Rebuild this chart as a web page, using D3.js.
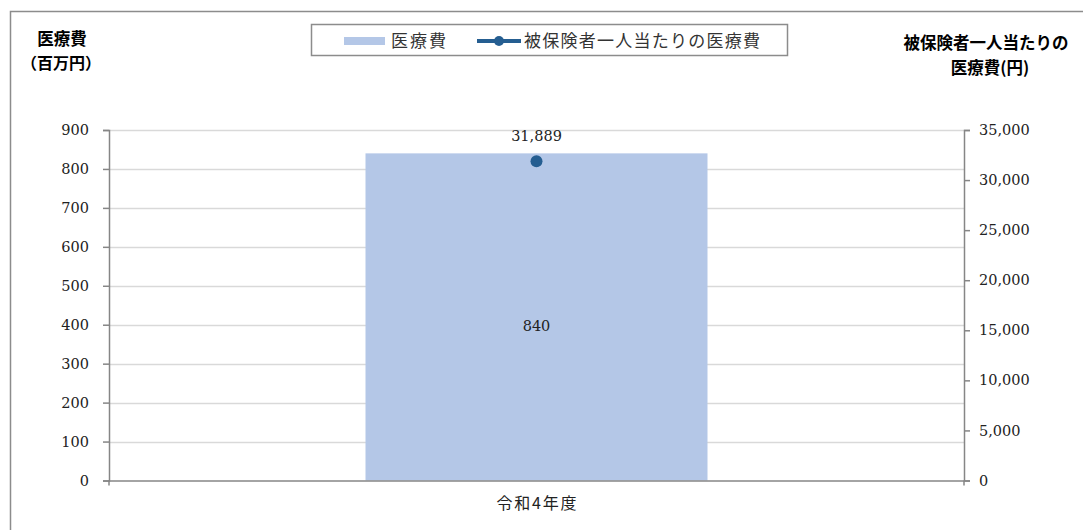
<!DOCTYPE html>
<html><head><meta charset="utf-8">
<script src="https://cdn.jsdelivr.net/npm/d3@7"></script>
<style>
body{margin:0;background:#fff;}
text{font-family:"Noto Sans CJK JP",sans-serif;}
.num{font-family:"DejaVu Serif","Liberation Serif",serif;font-size:14.5px;fill:#222;}
</style></head>
<body>
<svg id="chart" width="1083" height="530"></svg>
<script>
const categories = ["令和4年度"];
const medicalCost = [840];          // 百万円
const perCapitaCost = [31889];      // 円
const leftTicks = [0,100,200,300,400,500,600,700,800,900];
const rightTicks = [0,5000,10000,15000,20000,25000,30000,35000];
const seriesNames = ["医療費","被保険者一人当たりの医療費"];

const svg = d3.select("#chart");
const barColor = "#b4c7e7", lineColor = "#255e91";
const M = {left:109, right:964, top:130, bottom:480.5};

// outer frame
svg.append("rect").attr("x",10.5).attr("y",11.5).attr("width",1200).attr("height",700)
  .attr("fill","none").attr("stroke","#8c8c8c").attr("stroke-width",1.5);

const x = d3.scaleBand().domain(categories).range([M.left,M.right]).paddingInner(0.6).paddingOuter(0.3);
const yL = d3.scaleLinear().domain([0,900]).range([M.bottom,M.top]);
const yR = d3.scaleLinear().domain([0,35000]).range([M.bottom,M.top]);

// gridlines
svg.append("g").selectAll("line").data(leftTicks.filter(d=>d>0)).join("line")
  .attr("x1",M.left).attr("x2",M.right).attr("y1",d=>Math.round(yL(d))+0.5).attr("y2",d=>Math.round(yL(d))+0.5)
  .attr("stroke","#d9d9d9").attr("stroke-width",1.5);

// bars
svg.append("g").selectAll("rect").data(categories).join("rect")
  .attr("x",d=>x(d)).attr("width",x.bandwidth())
  .attr("y",(d,i)=>yL(medicalCost[i])).attr("height",(d,i)=>yL(0)-yL(medicalCost[i]))
  .attr("fill",barColor);

// axes
const axisColor = "#868686";
const gL = svg.append("g").attr("transform",`translate(${M.left},0)`)
  .call(d3.axisLeft(yL).tickValues(leftTicks).tickSize(6).tickPadding(14).tickFormat(d3.format("d")));
const gR = svg.append("g").attr("transform",`translate(${M.right},0)`)
  .call(d3.axisRight(yR).tickValues(rightTicks).tickSize(6).tickPadding(9).tickFormat(d3.format(",")));
const gX = svg.append("g").attr("transform",`translate(0,${M.bottom})`)
  .call(d3.axisBottom(x).tickSize(0).tickPadding(17));
gX.select(".domain").attr("d",`M${M.left},0.5H${M.right}`);
svg.append("line").attr("x1",M.left).attr("x2",M.left).attr("y1",M.bottom).attr("y2",M.bottom+5).attr("stroke",axisColor).attr("stroke-width",1.5);
svg.append("line").attr("x1",M.right).attr("x2",M.right).attr("y1",M.bottom).attr("y2",M.bottom+5).attr("stroke",axisColor).attr("stroke-width",1.5);
[gL,gR,gX].forEach(g=>{
  g.selectAll(".domain").attr("stroke",axisColor).attr("stroke-width",1.5);
  g.selectAll(".tick line").attr("stroke",axisColor).attr("stroke-width",1.5);
});
gL.selectAll(".tick text").attr("class","num").attr("font-family",null).attr("font-size",null);
gR.selectAll(".tick text").attr("class","num").attr("font-family",null).attr("font-size",null);
gX.selectAll(".tick text").attr("font-family","Noto Sans CJK JP").attr("font-size",16).attr("fill","#222")
  .attr("textLength",80).attr("lengthAdjust","spacing");

// line series (single point)
const cx = (d,i)=>x(d)+x.bandwidth()/2;
svg.append("path").datum(categories)
  .attr("d",d3.line().x((d,i)=>cx(d,i)).y((d,i)=>yR(perCapitaCost[i])))
  .attr("fill","none").attr("stroke",lineColor).attr("stroke-width",3);
svg.append("g").selectAll("circle").data(categories).join("circle")
  .attr("cx",cx).attr("cy",(d,i)=>yR(perCapitaCost[i])).attr("r",6).attr("fill",lineColor);

// data labels
svg.append("g").selectAll("text").data(categories).join("text").attr("class","num")
  .attr("x",cx).attr("y",(d,i)=>yR(perCapitaCost[i])-20).attr("text-anchor","middle")
  .text((d,i)=>d3.format(",")(perCapitaCost[i]));
svg.append("g").selectAll("text").data(categories).join("text").attr("class","num")
  .attr("x",cx).attr("y",(d,i)=>(yL(medicalCost[i])+yL(0))/2+14).attr("text-anchor","middle")
  .text((d,i)=>d3.format(",")(medicalCost[i]));

// axis titles
const t = svg.append("g").attr("font-weight","bold").attr("fill","#000");
t.append("text").attr("x",62).attr("y",45).attr("text-anchor","middle").attr("font-size",16.5).attr("font-weight","bold").text("医療費");
t.append("text").attr("x",61).attr("y",69).attr("text-anchor","middle").attr("font-size",16).attr("font-weight","bold").text("（百万円）");
t.append("text").attr("x",986).attr("y",49).attr("text-anchor","middle").attr("font-size",16.5).attr("font-weight","bold").text("被保険者一人当たりの");
t.append("text").attr("x",990).attr("y",74).attr("text-anchor","middle").attr("font-size",16.5).attr("font-weight","bold").text("医療費(円)");

// legend
const lg = svg.append("g");
lg.append("rect").attr("x",311.5).attr("y",24.5).attr("width",476).attr("height",31)
  .attr("fill","#fff").attr("stroke","#8c8c8c").attr("stroke-width",1.5);
lg.append("rect").attr("x",344).attr("y",37).attr("width",41).attr("height",8).attr("fill",barColor);
lg.append("text").attr("x",391).attr("y",47).attr("font-size",17).attr("fill","#333")
  .attr("textLength",55).attr("lengthAdjust","spacing").text(seriesNames[0]);
lg.append("line").attr("x1",477).attr("x2",521).attr("y1",41).attr("y2",41).attr("stroke",lineColor).attr("stroke-width",4);
lg.append("circle").attr("cx",499).attr("cy",41).attr("r",5).attr("fill",lineColor);
lg.append("text").attr("x",524).attr("y",47).attr("font-size",17).attr("fill","#333")
  .attr("textLength",236).attr("lengthAdjust","spacing").text(seriesNames[1]);
</script>
</body></html>
